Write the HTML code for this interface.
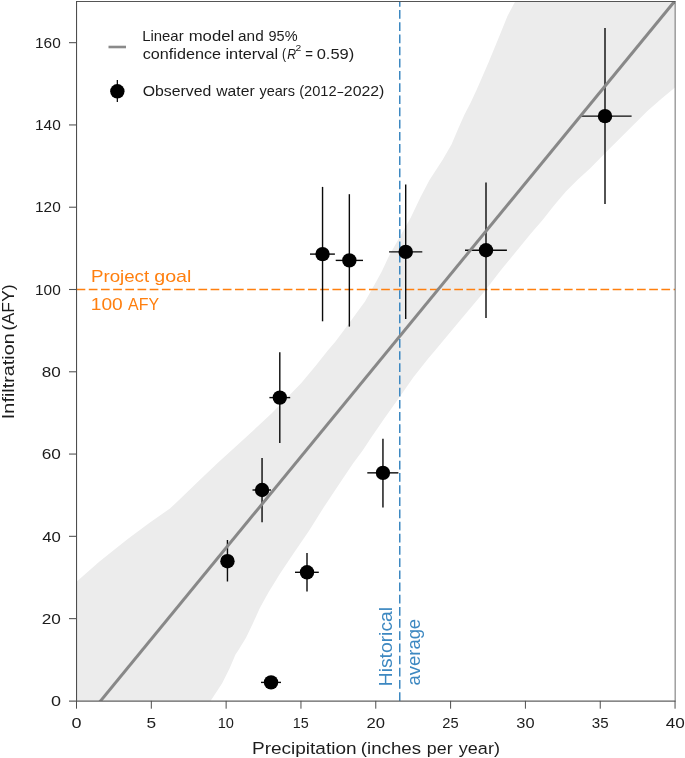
<!DOCTYPE html>
<html><head><meta charset="utf-8"><title>Infiltration vs precipitation</title>
<style>html,body{margin:0;padding:0;background:#fff;}svg{display:block;will-change:transform;opacity:0.999;}text{font-family:"Liberation Sans",sans-serif;}</style>
</head><body>
<svg width="685" height="758" viewBox="0 0 685 758">
<defs><clipPath id="plot"><rect x="76.50" y="1.50" width="598.50" height="699.40"/></clipPath></defs>
<rect x="0" y="0" width="685" height="758" fill="#ffffff"/>
<polygon fill="#ececec" points="76.5,581.8 99.2,561.8 113.6,550.2 128.4,538.4 150.3,522.3 170.0,508.5 179.0,500.0 200.0,479.8 217.9,462.8 235.8,446.4 253.6,430.2 271.5,413.5 289.4,395.2 301.1,383.2 315.7,365.7 327.4,351.1 335.5,341.5 350.4,321.5 358.0,311.0 365.0,301.5 373.5,286.6 381.5,272.0 389.5,255.0 400.6,235.4 410.7,217.8 420.2,197.7 429.5,180.0 442.5,160.0 451.5,144.5 458.5,128.0 464.4,114.8 470.5,103.1 477.0,89.0 488.4,62.8 498.6,38.0 507.5,16.0 515.2,1.5 675.0,1.5 675.0,87.6 661.7,98.4 647.4,110.9 633.1,125.2 618.8,139.5 604.5,153.8 590.0,168.5 577.6,179.7 565.9,191.4 554.2,205.3 542.6,219.9 530.9,233.5 517.0,250.5 501.0,270.0 485.0,290.7 460.0,320.6 434.6,351.0 427.4,359.5 413.2,377.5 399.6,397.0 385.0,417.4 371.9,436.4 363.0,450.0 353.0,463.4 338.4,485.3 323.8,507.2 309.2,530.5 302.7,540.0 291.8,556.1 280.1,573.6 268.4,592.6 259.6,608.6 252.6,624.0 246.0,637.8 238.5,650.0 235.5,654.5 229.3,669.0 222.0,683.5 210.5,700.9 76.5,700.9"/>
<line x1="76.60" y1="289.6" x2="675.00" y2="289.6" stroke="#ff7f0e" stroke-width="1.5" stroke-dasharray="8.7 3.483"/>
<line x1="399.75" y1="700.90" x2="399.75" y2="1.50" stroke="#3d88c1" stroke-width="1.5" stroke-dasharray="8.7 3.48"/>
<line x1="227.45" y1="540.00" x2="227.45" y2="581.50" stroke="#0a0a0a" stroke-width="1.4"/>
<line x1="252.50" y1="490.00" x2="271.00" y2="490.00" stroke="#0a0a0a" stroke-width="1.4"/>
<line x1="262.05" y1="458.00" x2="262.05" y2="522.20" stroke="#0a0a0a" stroke-width="1.4"/>
<line x1="261.00" y1="682.40" x2="281.00" y2="682.40" stroke="#0a0a0a" stroke-width="1.4"/>
<line x1="269.40" y1="397.60" x2="290.20" y2="397.60" stroke="#0a0a0a" stroke-width="1.4"/>
<line x1="279.80" y1="352.20" x2="279.80" y2="443.00" stroke="#0a0a0a" stroke-width="1.4"/>
<line x1="295.00" y1="572.30" x2="318.80" y2="572.30" stroke="#0a0a0a" stroke-width="1.4"/>
<line x1="307.00" y1="552.90" x2="307.00" y2="591.60" stroke="#0a0a0a" stroke-width="1.4"/>
<line x1="310.00" y1="254.10" x2="334.90" y2="254.10" stroke="#0a0a0a" stroke-width="1.4"/>
<line x1="322.55" y1="186.90" x2="322.55" y2="321.30" stroke="#0a0a0a" stroke-width="1.4"/>
<line x1="335.70" y1="260.40" x2="363.00" y2="260.40" stroke="#0a0a0a" stroke-width="1.4"/>
<line x1="349.35" y1="194.20" x2="349.35" y2="326.60" stroke="#0a0a0a" stroke-width="1.4"/>
<line x1="367.30" y1="472.85" x2="398.40" y2="472.85" stroke="#0a0a0a" stroke-width="1.4"/>
<line x1="382.95" y1="438.70" x2="382.95" y2="507.40" stroke="#0a0a0a" stroke-width="1.4"/>
<line x1="389.10" y1="251.90" x2="422.30" y2="251.90" stroke="#0a0a0a" stroke-width="1.4"/>
<line x1="405.70" y1="184.40" x2="405.70" y2="318.90" stroke="#0a0a0a" stroke-width="1.4"/>
<line x1="465.00" y1="250.25" x2="506.90" y2="250.25" stroke="#0a0a0a" stroke-width="1.4"/>
<line x1="486.00" y1="182.40" x2="486.00" y2="318.00" stroke="#0a0a0a" stroke-width="1.4"/>
<line x1="580.20" y1="116.15" x2="631.60" y2="116.15" stroke="#0a0a0a" stroke-width="1.4"/>
<line x1="605.00" y1="27.90" x2="605.00" y2="203.90" stroke="#0a0a0a" stroke-width="1.4"/>
<line clip-path="url(#plot)" x1="99.7" y1="702" x2="675.3" y2="0.4" stroke="#888888" stroke-width="3"/>
<line x1="76.20" y1="1.55" x2="675.60" y2="1.55" stroke="#555555" stroke-width="1.1"/>
<line x1="675.15" y1="1.50" x2="675.15" y2="700.90" stroke="#666666" stroke-width="0.95"/>
<line x1="76.55" y1="1.00" x2="76.55" y2="701.50" stroke="#4a4a4a" stroke-width="1.05"/>
<line x1="69.00" y1="701.10" x2="675.60" y2="701.10" stroke="#606060" stroke-width="1.3"/>
<text transform="translate(50.88,706.10) scale(1.2007,1)" font-size="15" fill="#1c1c1c">0</text>
<line x1="69" y1="618.62" x2="76.50" y2="618.62" stroke="#555555" stroke-width="1.1"/>
<text transform="translate(41.74,623.82) scale(1.1475,1)" font-size="15" fill="#1c1c1c">20</text>
<line x1="69" y1="536.34" x2="76.50" y2="536.34" stroke="#555555" stroke-width="1.1"/>
<text transform="translate(42.22,541.54) scale(1.1175,1)" font-size="15" fill="#1c1c1c">40</text>
<line x1="69" y1="454.06" x2="76.50" y2="454.06" stroke="#555555" stroke-width="1.1"/>
<text transform="translate(41.74,459.26) scale(1.1475,1)" font-size="15" fill="#1c1c1c">60</text>
<line x1="69" y1="371.78" x2="76.50" y2="371.78" stroke="#555555" stroke-width="1.1"/>
<text transform="translate(41.87,376.98) scale(1.1392,1)" font-size="15" fill="#1c1c1c">80</text>
<line x1="69" y1="289.50" x2="76.50" y2="289.50" stroke="#555555" stroke-width="1.1"/>
<text transform="translate(35.04,294.70) scale(1.0289,1)" font-size="15" fill="#1c1c1c">100</text>
<line x1="69" y1="207.22" x2="76.50" y2="207.22" stroke="#555555" stroke-width="1.1"/>
<text transform="translate(35.04,212.42) scale(1.0289,1)" font-size="15" fill="#1c1c1c">120</text>
<line x1="69" y1="124.94" x2="76.50" y2="124.94" stroke="#555555" stroke-width="1.1"/>
<text transform="translate(35.04,130.14) scale(1.0289,1)" font-size="15" fill="#1c1c1c">140</text>
<line x1="69" y1="42.66" x2="76.50" y2="42.66" stroke="#555555" stroke-width="1.1"/>
<text transform="translate(35.04,47.86) scale(1.0289,1)" font-size="15" fill="#1c1c1c">160</text>
<line x1="76.50" y1="700.90" x2="76.50" y2="708.7" stroke="#4d4d4d" stroke-width="1"/>
<text transform="translate(71.48,727.80) scale(1.2007,1)" font-size="15" fill="#1c1c1c">0</text>
<line x1="151.32" y1="700.90" x2="151.32" y2="708.7" stroke="#4d4d4d" stroke-width="1"/>
<text transform="translate(146.53,727.80) scale(1.1509,1)" font-size="15" fill="#1c1c1c">5</text>
<line x1="226.14" y1="700.90" x2="226.14" y2="708.7" stroke="#4d4d4d" stroke-width="1"/>
<text transform="translate(217.74,727.80) scale(0.9758,1)" font-size="15" fill="#1c1c1c">10</text>
<line x1="300.96" y1="700.90" x2="300.96" y2="708.7" stroke="#4d4d4d" stroke-width="1"/>
<text transform="translate(292.73,727.80) scale(0.9581,1)" font-size="15" fill="#1c1c1c">15</text>
<line x1="375.78" y1="700.90" x2="375.78" y2="708.7" stroke="#4d4d4d" stroke-width="1"/>
<text transform="translate(366.45,727.80) scale(1.1084,1)" font-size="15" fill="#1c1c1c">20</text>
<line x1="450.60" y1="700.90" x2="450.60" y2="708.7" stroke="#4d4d4d" stroke-width="1"/>
<text transform="translate(442.36,727.80) scale(0.9804,1)" font-size="15" fill="#1c1c1c">25</text>
<line x1="525.42" y1="700.90" x2="525.42" y2="708.7" stroke="#4d4d4d" stroke-width="1"/>
<text transform="translate(516.30,727.80) scale(1.0950,1)" font-size="15" fill="#1c1c1c">30</text>
<line x1="600.24" y1="700.90" x2="600.24" y2="708.7" stroke="#4d4d4d" stroke-width="1"/>
<text transform="translate(591.87,727.80) scale(1.0073,1)" font-size="15" fill="#1c1c1c">35</text>
<line x1="675.06" y1="700.90" x2="675.06" y2="708.7" stroke="#4d4d4d" stroke-width="1"/>
<text transform="translate(665.67,727.80) scale(1.1429,1)" font-size="15" fill="#1c1c1c">40</text>
<circle cx="227.45" cy="561.20" r="7.20" fill="#000"/>
<circle cx="262.05" cy="490.00" r="7.20" fill="#000"/>
<circle cx="271.05" cy="682.40" r="7.20" fill="#000"/>
<circle cx="279.80" cy="397.60" r="7.20" fill="#000"/>
<circle cx="307.00" cy="572.30" r="7.20" fill="#000"/>
<circle cx="322.55" cy="254.10" r="7.20" fill="#000"/>
<circle cx="349.35" cy="260.40" r="7.20" fill="#000"/>
<circle cx="382.95" cy="472.85" r="7.20" fill="#000"/>
<circle cx="405.70" cy="251.90" r="7.20" fill="#000"/>
<circle cx="486.00" cy="250.25" r="7.20" fill="#000"/>
<circle cx="605.00" cy="116.15" r="7.20" fill="#000"/>
<line x1="108.5" y1="47.0" x2="126.0" y2="47.0" stroke="#8a8a8a" stroke-width="2.6"/>
<line x1="117.35" y1="79.9" x2="117.35" y2="102.1" stroke="#111" stroke-width="1.3"/>
<circle cx="117.35" cy="91.3" r="7.2" fill="#000"/>
<text transform="translate(142.17,40.90) scale(1.0651,1)" font-size="14" fill="#1c1c1c">Linear</text>
<text transform="translate(188.67,40.90) scale(1.1942,1)" font-size="14" fill="#1c1c1c">model</text>
<text transform="translate(238.05,40.90) scale(1.0971,1)" font-size="14" fill="#1c1c1c">and</text>
<text transform="translate(268.51,40.90) scale(1.0356,1)" font-size="14" fill="#1c1c1c">95%</text>
<text transform="translate(142.71,58.60) scale(1.1564,1)" font-size="14" fill="#1c1c1c">confidence</text>
<text transform="translate(225.49,58.60) scale(1.1697,1)" font-size="14" fill="#1c1c1c">interval</text>
<text transform="translate(282.04,58.60) scale(0.8707,1)" font-size="14" fill="#1c1c1c">(</text>
<text transform="translate(287.23,58.60) scale(0.8733,1)" font-size="14" fill="#1c1c1c" font-style="italic">R</text>
<text transform="translate(295.48,51.00) scale(1.0873,1)" font-size="9.5" fill="#1c1c1c">2</text>
<text transform="translate(305.34,58.60) scale(0.9426,1)" font-size="14" fill="#1c1c1c">=</text>
<text transform="translate(316.64,58.60) scale(1.1776,1)" font-size="14" fill="#1c1c1c">0.59)</text>
<text transform="translate(142.65,95.80) scale(1.1310,1)" font-size="14" fill="#1c1c1c">Observed</text>
<text transform="translate(216.30,95.80) scale(1.1199,1)" font-size="14" fill="#1c1c1c">water</text>
<text transform="translate(259.46,95.80) scale(1.0355,1)" font-size="14" fill="#1c1c1c">years</text>
<text transform="translate(299.18,95.80) scale(1.0459,1)" font-size="14" fill="#1c1c1c">(2012</text>
<text transform="translate(337.40,95.80) scale(0.7336,1)" font-size="14" fill="#1c1c1c">–</text>
<text transform="translate(343.81,95.80) scale(1.1335,1)" font-size="14" fill="#1c1c1c">2022)</text>
<text transform="translate(90.96,282.10) scale(1.1127,1)" font-size="16.8" fill="#ff7f0e">Project</text>
<text transform="translate(154.26,282.10) scale(1.1704,1)" font-size="16.8" fill="#ff7f0e">goal</text>
<text transform="translate(90.76,309.90) scale(1.1407,1)" font-size="16.8" fill="#ff7f0e">100</text>
<text transform="translate(128.06,309.90) scale(0.9487,1)" font-size="16.8" fill="#ff7f0e">AFY</text>
<text transform="translate(392.40,686.19) rotate(-90) scale(1.0955,1)" font-size="17.6" fill="#3d88c1">Historical</text>
<text transform="translate(420.00,685.38) rotate(-90) scale(1.0454,1)" font-size="17.6" fill="#3d88c1">average</text>
<text transform="translate(252.03,753.80) scale(1.1316,1)" font-size="16.8" fill="#1c1c1c">Precipitation</text>
<text transform="translate(360.83,753.80) scale(1.1105,1)" font-size="16.8" fill="#1c1c1c">(inches</text>
<text transform="translate(426.84,753.80) scale(1.0597,1)" font-size="16.8" fill="#1c1c1c">per</text>
<text transform="translate(458.85,753.80) scale(1.0734,1)" font-size="16.8" fill="#1c1c1c">year)</text>
<text transform="translate(14.30,419.13) rotate(-90) scale(1.1798,1)" font-size="16.8" fill="#1c1c1c">Infiltration</text>
<text transform="translate(14.30,330.40) rotate(-90) scale(1.0515,1)" font-size="16.8" fill="#1c1c1c">(AFY)</text>
</svg>
</body></html>
